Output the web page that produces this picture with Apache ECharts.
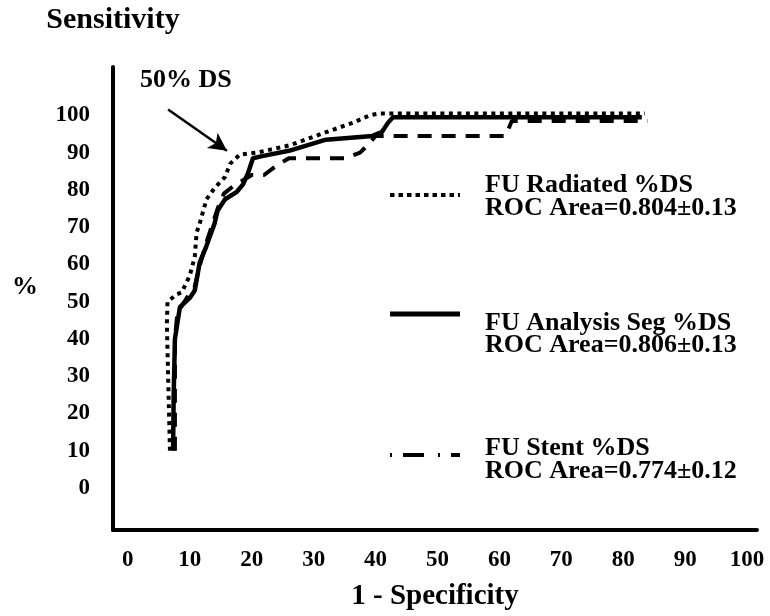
<!DOCTYPE html>
<html>
<head>
<meta charset="utf-8">
<script src="https://cdn.jsdelivr.net/npm/echarts@6/dist/echarts.min.js"></script>
<style>
html,body{margin:0;padding:0;background:#fff;}
#chart{width:770px;height:616px;}
</style>
</head>
<body>
<div id="chart"></div>
<script>
// ---- data ----
const xTickValues = [0, 10, 20, 30, 40, 50, 60, 70, 80, 90, 100];
const yTickValues = [0, 10, 20, 30, 40, 50, 60, 70, 80, 90, 100];

const radiatedName = 'FU Radiated %DS';
const radiatedArea = 'ROC Area=0.804\u00b10.13';
const radiatedX = [6.8, 6.5, 6.3, 6.4, 7.9, 8.7, 10.0, 10.8, 11.1, 11.6, 12.7, 14.0, 15.7, 16.5, 18.1, 20.8, 26.2, 32.0, 36.3, 39.0, 40.5, 83.5];
const radiatedY = [10, 30, 44, 50, 52, 52.5, 57, 62, 68.5, 71, 77.5, 80.5, 83.5, 87, 89.5, 90, 92, 95.5, 98, 100, 100.5, 100.5];

const segName = 'FU Analysis Seg %DS';
const segArea = 'ROC Area=0.806\u00b10.13';
const segX = [7.3, 7.4, 7.6, 8.4, 10.0, 10.8, 11.6, 12.7, 14.0, 14.5, 15.7, 17.6, 18.6, 19.4, 20.2, 21.5, 26.0, 32.0, 39.5, 41.0, 42.0, 42.8, 83.0];
const segY = [10, 25, 40, 48.5, 51, 53, 60.5, 65, 71, 74.5, 77.5, 79.5, 81.5, 84.5, 88.5, 89, 90.5, 93.5, 94.5, 95.5, 98, 99.5, 99.5];

const stentName = 'FU Stent %DS';
const stentArea = 'ROC Area=0.774\u00b10.12';
const stentX = [7.6, 7.6, 8.0, 9.5, 10.8, 11.5, 12.5, 13.5, 14.5, 15.5, 17.0, 19.0, 20.0, 22.0, 24.0, 26.0, 35.0, 37.5, 39.0, 40.0, 61.0, 62.0, 84.0];
const stentY = [10, 40, 47, 51, 54, 59, 65, 70, 75, 79, 81, 83, 84, 84, 86.5, 88.5, 88.5, 90, 92.5, 94.5, 94.5, 98.5, 98.5];

const arrowFrom = [6.5, 101.6];
const arrowTo = [16.0, 90.5];
const arrowText = '50% DS';

// ---- chart ----
const FONT = "'Liberation Serif', 'Times New Roman', serif";
const pairs = (xs, ys) => xs.map((x, i) => [x, ys[i]]);

const chart = echarts.init(document.getElementById('chart'), null, {renderer: 'canvas'});

const txt = (x, y, text, size) => ({
  type: 'text', x: x, y: y,
  style: {text: text, font: 'bold ' + size + 'px ' + FONT, fill: '#000', align: 'left', verticalAlign: 'middle'}
});

chart.setOption({
  animation: false,
  backgroundColor: '#fff',
  grid: {left: 113, right: 13, top: 67, bottom: 86, containLabel: false, outerBoundsMode: 'none'},
  xAxis: {
    type: 'value', min: -2.4, max: 101.6,
    name: '1 - Specificity', nameLocation: 'middle', nameGap: 52,
    nameTextStyle: {fontFamily: FONT, fontWeight: 'bold', fontSize: 29, color: '#000'},
    axisLine: {onZero: false, lineStyle: {color: '#000', width: 4}},
    axisTick: {show: false},
    splitLine: {show: false},
    axisLabel: {customValues: xTickValues, margin: 19, fontFamily: FONT, fontWeight: 'bold', fontSize: 23, color: '#000'}
  },
  yAxis: {
    type: 'value', min: -11.3, max: 113,
    name: 'Sensitivity', nameLocation: 'end', nameGap: 32,
    nameTextStyle: {fontFamily: FONT, fontWeight: 'bold', fontSize: 30, color: '#000', align: 'center'},
    axisLine: {onZero: false, lineStyle: {color: '#000', width: 4}},
    axisTick: {show: false},
    splitLine: {show: false},
    axisLabel: {customValues: yTickValues, margin: 23, fontFamily: FONT, fontWeight: 'bold', fontSize: 23, color: '#000'}
  },
  series: [
    {
      name: stentName, type: 'line', data: pairs(stentX, stentY), showSymbol: false, symbol: 'none',
      lineStyle: {color: '#000', width: 4, type: [14, 10]}, z: 2
    },
    {
      name: segName, type: 'line', data: pairs(segX, segY), showSymbol: false, symbol: 'none',
      lineStyle: {color: '#000', width: 4.5, type: 'solid'}, z: 3
    },
    {
      name: radiatedName, type: 'line', data: pairs(radiatedX, radiatedY), showSymbol: false, symbol: 'none',
      lineStyle: {color: '#000', width: 4, type: [4, 4.5]}, z: 4,
      markLine: {
        silent: true, symbol: ['none', 'arrow'], symbolSize: [14, 18],
        label: {show: false},
        lineStyle: {color: '#000', width: 2.5, type: 'solid'},
        data: [[{coord: arrowFrom}, {coord: arrowTo}]]
      }
    }
  ],
  graphic: [
    txt(140, 80, arrowText, 26),
    txt(12, 287, '%', 26),
    // legend samples
    {type: 'line', shape: {x1: 390, y1: 195, x2: 460, y2: 195}, style: {stroke: '#000', lineWidth: 4, lineDash: [4.5, 4]}},
    {type: 'line', shape: {x1: 390, y1: 314, x2: 460, y2: 314}, style: {stroke: '#000', lineWidth: 5}},
    {type: 'line', shape: {x1: 390, y1: 455, x2: 460, y2: 455}, style: {stroke: '#000', lineWidth: 4, lineDash: [2, 11, 21, 14]}},
    txt(485, 185, radiatedName, 26),
    txt(485, 208, radiatedArea, 26),
    txt(485, 323, segName, 26),
    txt(485, 345, segArea, 26),
    txt(485, 448, stentName, 26),
    txt(485, 471, stentArea, 26)
  ]
});
</script>
</body>
</html>
